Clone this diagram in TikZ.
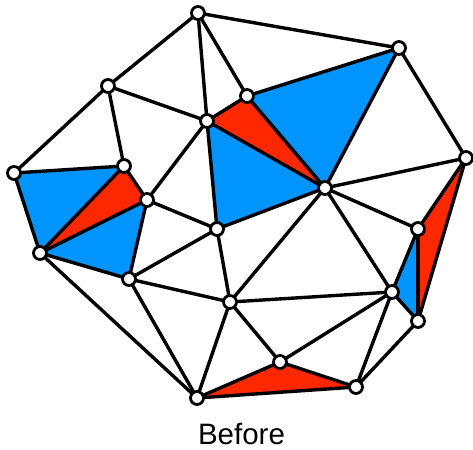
\documentclass[tikz,border=0pt]{standalone}
\usepackage{fontspec}
\setmainfont{Liberation Sans}
\definecolor{fillblue}{RGB}{0,148,255}
\definecolor{fillred}{RGB}{255,40,0}
\begin{document}
\begin{tikzpicture}[x=1pt,y=-1pt,
  vtx/.style={circle,draw=black,fill=white,line width=2.8pt,inner sep=0pt,minimum size=13pt},
  edge/.style={line width=3.4pt,line cap=round,line join=round},
  bluetri/.style={fill=fillblue},
  redtri/.style={fill=fillred}]
\useasboundingbox (0,0) rectangle (473,449);
% vertices
\coordinate (A) at (198,13);
\coordinate (B) at (399,48);
\coordinate (C) at (108,86);
\coordinate (D) at (247,96);
\coordinate (E) at (207,121);
\coordinate (F) at (466,158);
\coordinate (G) at (14,173);
\coordinate (H) at (124,166);
\coordinate (I) at (147,200);
\coordinate (J) at (325,188);
\coordinate (K) at (217,229);
\coordinate (L) at (418,229);
\coordinate (M) at (40,253);
\coordinate (N) at (129,279);
\coordinate (O) at (392,292);
\coordinate (P) at (230,302);
\coordinate (Q) at (418,321);
\coordinate (R) at (280,362);
\coordinate (S) at (356,387);
\coordinate (T) at (197,398);
% filled triangles
\fill[bluetri] (G) -- (H) -- (M) -- cycle;
\fill[redtri] (M) -- (H) -- (I) -- cycle;
\fill[bluetri] (M) -- (I) -- (N) -- cycle;
\fill[redtri] (E) -- (D) -- (J) -- cycle;
\fill[bluetri] (D) -- (B) -- (J) -- cycle;
\fill[bluetri] (E) -- (J) -- (K) -- cycle;
\fill[redtri] (F) -- (L) -- (Q) -- cycle;
\fill[bluetri] (L) -- (O) -- (Q) -- cycle;
\fill[redtri] (T) -- (R) -- (S) -- cycle;
% edges
\foreach \u/\v in {A/B,A/C,A/E,A/D,C/G,C/H,C/E,E/D,D/B,D/J,E/J,B/J,B/F,F/J,F/L,F/Q,
  J/L,J/O,J/K,J/P,E/K,K/I,K/N,K/P,I/H,I/E,I/M,I/N,G/H,G/M,H/M,M/N,M/T,N/T,N/P,
  P/T,P/R,P/O,R/T,R/S,T/S,R/O,O/S,Q/S,O/Q,L/O,L/Q}
  \draw[edge] (\u) -- (\v);
\foreach \n in {A,B,C,D,E,F,G,H,I,J,K,L,M,N,O,P,Q,R,S,T}
  \node[vtx] (v\n) at (\n) {};
\node[anchor=base,font=\fontsize{29.5}{34}\selectfont,inner sep=0pt] (cap) at (241.5,444) {Before};
\end{tikzpicture}
\end{document}
